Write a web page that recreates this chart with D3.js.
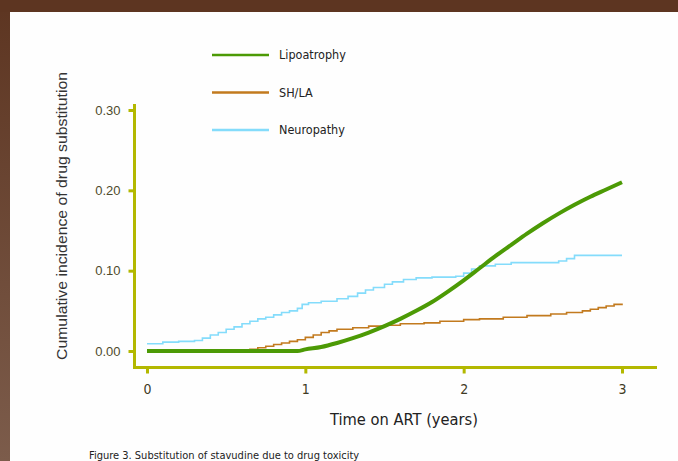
<!DOCTYPE html>
<html>
<head>
<meta charset="utf-8">
<script src="https://cdn.jsdelivr.net/npm/d3@7"></script>
<style>
  html, body { margin: 0; padding: 0; background: #fefefe; }
  svg { display: block; }
</style>
</head>
<body>
<svg id="chart" width="678" height="461"></svg>
<script>
// series data (time in years, cumulative incidence)
const lipoTime = [0, 0.95, 1.0, 1.1, 1.2, 1.3, 1.4, 1.5, 1.6, 1.7, 1.8, 1.9, 2.0, 2.1, 2.2, 2.3, 2.4, 2.5, 2.6, 2.7, 2.8, 2.9, 3.0];
const lipoValue = [0, 0, 0.002, 0.005, 0.010, 0.016, 0.023, 0.031, 0.040, 0.050, 0.061, 0.074, 0.088, 0.103, 0.118, 0.132, 0.146, 0.159, 0.171, 0.182, 0.192, 0.201, 0.21];

const shlaTime = [0, 0.62, 0.65, 0.7, 0.75, 0.8, 0.85, 0.9, 0.95, 1.0, 1.05, 1.1, 1.15, 1.2, 1.3, 1.4, 1.5, 1.6, 1.75, 1.85, 2.0, 2.1, 2.25, 2.4, 2.55, 2.65, 2.75, 2.8, 2.85, 2.9, 2.95, 3.0];
const shlaValue = [0, 0.001, 0.002, 0.004, 0.006, 0.008, 0.01, 0.012, 0.014, 0.017, 0.02, 0.023, 0.025, 0.027, 0.029, 0.031, 0.032, 0.034, 0.035, 0.037, 0.039, 0.04, 0.042, 0.044, 0.046, 0.048, 0.05, 0.052, 0.054, 0.056, 0.058, 0.059];

const neuroTime = [0, 0.1, 0.2, 0.3, 0.35, 0.4, 0.45, 0.5, 0.55, 0.6, 0.65, 0.7, 0.75, 0.8, 0.85, 0.9, 0.95, 0.98, 1.02, 1.1, 1.2, 1.27, 1.33, 1.38, 1.43, 1.5, 1.55, 1.62, 1.7, 1.8, 1.95, 2.0, 2.05, 2.1, 2.2, 2.3, 2.6, 2.65, 2.7, 3.0];
const neuroValue = [0.009, 0.011, 0.012, 0.013, 0.016, 0.02, 0.023, 0.027, 0.03, 0.034, 0.037, 0.04, 0.042, 0.045, 0.048, 0.05, 0.053, 0.058, 0.06, 0.062, 0.065, 0.068, 0.072, 0.076, 0.079, 0.083, 0.086, 0.089, 0.091, 0.092, 0.093, 0.097, 0.102, 0.106, 0.108, 0.11, 0.112, 0.115, 0.119, 0.119];

const seriesNames = ["Lipoatrophy", "SH/LA", "Neuropathy"];
const xTicks = [0, 1, 2, 3];
const yTicks = [0, 0.1, 0.2, 0.3];

const svg = d3.select("#chart");
const axisColor = "#b3b800";
const colors = { "Lipoatrophy": "#4c9a05", "SH/LA": "#c27a1e", "Neuropathy": "#84dcfb" };
const narrow = "'Liberation Sans Narrow', 'DejaVu Sans Condensed', sans-serif";

// frame
const defs = svg.append("defs");
const grad = defs.append("linearGradient").attr("id", "side").attr("x1", 0).attr("y1", 0).attr("x2", 0).attr("y2", 1);
grad.append("stop").attr("offset", "0%").attr("stop-color", "#5d3521");
grad.append("stop").attr("offset", "100%").attr("stop-color", "#7c5c4b");
svg.append("rect").attr("x", 0).attr("y", 0).attr("width", 678).attr("height", 461).attr("fill", "#fefefe");
svg.append("rect").attr("x", 0).attr("y", 0).attr("width", 10).attr("height", 461).attr("fill", "url(#side)");
svg.append("rect").attr("x", 0).attr("y", 0).attr("width", 678).attr("height", 12).attr("fill", "#5d3521");

const x = d3.scaleLinear().domain([0, 3]).range([147, 622]);
const y = d3.scaleLinear().domain([0, 0.3]).range([351, 110]);

// axes (offset from the data area, as in the figure)
const yAxisX = 134.5, xAxisY = 367.5;
const yAxis = svg.append("g").attr("transform", `translate(${yAxisX},0)`)
    .call(d3.axisLeft(y).tickValues(yTicks).tickFormat(d3.format(".2f")).tickSize(6).tickSizeOuter(0));
yAxis.select(".domain").remove();
yAxis.append("line").attr("x1", 0).attr("x2", 0).attr("y1", 104).attr("y2", xAxisY + 1.5)
    .attr("stroke", axisColor).attr("stroke-width", 3);
yAxis.selectAll(".tick line").attr("stroke", axisColor).attr("stroke-width", 3);
yAxis.selectAll(".tick text").attr("x", -14).attr("fill", "#4e4b2c")
    .style("font-family", "'Liberation Sans', Arial, sans-serif").style("font-size", "13px");

const xAxis = svg.append("g").attr("transform", `translate(0,${xAxisY})`)
    .call(d3.axisBottom(x).tickValues(xTicks).tickFormat(d3.format("d")).tickSize(6).tickSizeOuter(0));
xAxis.select(".domain").remove();
xAxis.append("line").attr("x1", yAxisX - 1.5).attr("x2", 657).attr("y1", 0).attr("y2", 0)
    .attr("stroke", axisColor).attr("stroke-width", 3);
xAxis.selectAll(".tick line").attr("stroke", axisColor).attr("stroke-width", 3);
xAxis.selectAll(".tick text").attr("y", 17).attr("fill", "#3e3b24")
    .style("font-family", narrow).style("font-size", "14px");

// axis titles
svg.append("text")
    .attr("transform", "translate(67,216) rotate(-90)")
    .attr("text-anchor", "middle")
    .attr("fill", "#333")
    .attr("textLength", 288).attr("lengthAdjust", "spacingAndGlyphs")
    .style("font-family", "'Liberation Sans', Arial, sans-serif").style("font-size", "14px")
    .text("Cumulative incidence of drug substitution");

svg.append("text")
    .attr("x", 404).attr("y", 425)
    .attr("text-anchor", "middle")
    .attr("fill", "#222")
    .attr("textLength", 148).attr("lengthAdjust", "spacingAndGlyphs")
    .style("font-family", narrow).style("font-size", "16px")
    .text("Time on ART (years)");

svg.append("text")
    .attr("x", 89).attr("y", 459)
    .attr("fill", "#222")
    .style("font-family", narrow).style("font-size", "11px")
    .text("Figure 3. Substitution of stavudine due to drug toxicity");

// lines
const toPts = (ts, vs) => ts.map((t, i) => [t, vs[i]]);
const stepLine = d3.line().x(d => x(d[0])).y(d => y(d[1])).curve(d3.curveStepAfter);
const smoothLine = d3.line().x(d => x(d[0])).y(d => y(d[1])).curve(d3.curveMonotoneX);

svg.append("path").datum(toPts(neuroTime, neuroValue))
    .attr("d", stepLine).attr("fill", "none")
    .attr("stroke", colors["Neuropathy"]).attr("stroke-width", 1.6);
svg.append("path").datum(toPts(shlaTime, shlaValue))
    .attr("d", stepLine).attr("fill", "none")
    .attr("stroke", colors["SH/LA"]).attr("stroke-width", 1.6);
svg.append("path").datum(toPts(lipoTime, lipoValue))
    .attr("d", smoothLine).attr("fill", "none")
    .attr("stroke", colors["Lipoatrophy"]).attr("stroke-width", 4);

// legend
const legend = svg.append("g");
seriesNames.forEach((name, i) => {
    const ly = 55 + i * 37.5;
    legend.append("line").attr("x1", 212).attr("x2", 269).attr("y1", ly).attr("y2", ly)
        .attr("stroke", colors[name]).attr("stroke-width", 2.5);
    legend.append("text").attr("x", 279).attr("y", ly + 4)
        .attr("fill", "#222")
        .style("font-family", narrow).style("font-size", "12.5px")
        .text(name);
});
</script>
</body>
</html>
